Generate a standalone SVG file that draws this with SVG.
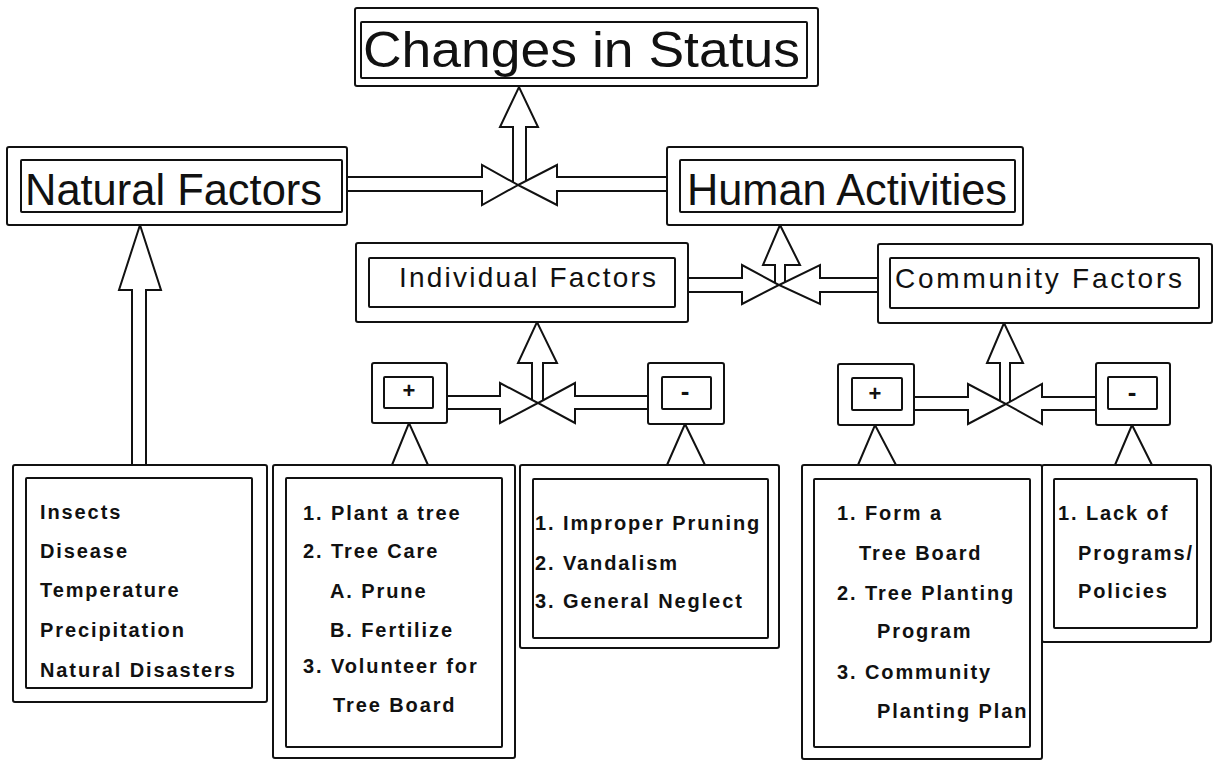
<svg xmlns="http://www.w3.org/2000/svg" width="1218" height="762" viewBox="0 0 1218 762">
<style>
.box{fill:#fff;stroke:#111;stroke-width:2;}
.ln{fill:#fff;stroke:#111;stroke-width:2;stroke-linejoin:miter;}
.tri{fill:none;stroke:#111;stroke-width:2;}
.big{font-family:"Liberation Sans",Arial,sans-serif;fill:#111;}
.mid{font-family:"Liberation Sans",Arial,sans-serif;font-size:28px;fill:#111;}
.sm{font-family:"Liberation Sans",Arial,sans-serif;font-size:20px;font-weight:bold;letter-spacing:1.9px;fill:#111;}
.sign{font-family:"Liberation Sans",Arial,sans-serif;font-weight:bold;fill:#111;text-anchor:middle;}
</style>
<rect width="1218" height="762" fill="#fff"/>

<g id="connectors">
  <!-- junction 1 -->
  <path class="ln" d="M513 185 V127 H500 L519 87 L538 127 H526 V185"/>
  <path class="ln" d="M347 177 H482 V165 L518 185 L482 205 V191 H347"/>
  <path class="ln" d="M667 177 H557 V165 L518 185 L557 205 V191 H667"/>
  <!-- junction 2 -->
  <path class="ln" d="M775 285 V265 H763 L780 225 L800 265 H785 V285"/>
  <path class="ln" d="M688 278 H742 V265 L779 285 L742 304 V292 H688"/>
  <path class="ln" d="M878 278 H820 V265 L779 285 L820 304 V292 H878"/>
  <!-- junction 3 -->
  <path class="ln" d="M532 403 V363 H518 L537 322 L557 363 H543 V403"/>
  <path class="ln" d="M447 396 H500 V383 L538 403 L500 423 V409 H447"/>
  <path class="ln" d="M648 396 H575 V383 L538 403 L575 423 V409 H648"/>
  <!-- junction 4 -->
  <path class="ln" d="M1000 404 V363 H987 L1004 323 L1023 363 H1010 V404"/>
  <path class="ln" d="M914 397 H968 V384 L1006 404 L968 424 V410 H914"/>
  <path class="ln" d="M1096 397 H1042 V384 L1006 404 L1042 424 V410 H1096"/>
  <!-- natural factors arrow -->
  <path class="ln" d="M132 465 V290 H119 L140 225 L161 290 H146 V465"/>
  <!-- triangles below sign boxes -->
  <polyline class="tri" points="392,465 409,423 428,465"/>
  <polyline class="tri" points="667,465 685,424 705,465"/>
  <polyline class="tri" points="858,465 875,425 896,465"/>
  <polyline class="tri" points="1115,465 1132,425 1152,465"/>
</g>

<g id="changes-in-status">
  <rect class="box" x="355" y="8" width="463" height="78" rx="2"/>
  <rect class="box" x="361" y="22" width="446" height="56" rx="1"/>
  <text class="big" x="363" y="67" font-size="50" textLength="437" lengthAdjust="spacingAndGlyphs">Changes in Status</text>
</g>

<g id="natural-factors">
  <rect class="box" x="7" y="147" width="340" height="78" rx="2"/>
  <rect class="box" x="21" y="160" width="321" height="52" rx="1"/>
  <text class="big" x="25" y="205" font-size="44" textLength="297" lengthAdjust="spacingAndGlyphs">Natural Factors</text>
</g>

<g id="human-activities">
  <rect class="box" x="667" y="147" width="356" height="78" rx="2"/>
  <rect class="box" x="680" y="160" width="335" height="52" rx="1"/>
  <text class="big" x="687" y="205" font-size="44" textLength="320" lengthAdjust="spacingAndGlyphs">Human Activities</text>
</g>

<g id="individual-factors">
  <rect class="box" x="356" y="243" width="332" height="79" rx="2"/>
  <rect class="box" x="369" y="258" width="306" height="49" rx="1"/>
  <text class="mid" x="399" y="287" textLength="257" lengthAdjust="spacing">Individual Factors</text>
</g>

<g id="community-factors">
  <rect class="box" x="878" y="244" width="334" height="79" rx="2"/>
  <rect class="box" x="890" y="258" width="309" height="50" rx="1"/>
  <text class="mid" x="895" y="288" textLength="287" lengthAdjust="spacing">Community Factors</text>
</g>

<g id="individual-plus">
  <rect class="box" x="372" y="363" width="75" height="60" rx="2"/>
  <rect class="box" x="384" y="377" width="49" height="31" rx="1"/>
  <text class="sign" x="409" y="398" font-size="22">+</text>
</g>

<g id="individual-minus">
  <rect class="box" x="648" y="363" width="76" height="61" rx="2"/>
  <rect class="box" x="662" y="377" width="49" height="32" rx="1"/>
  <text class="sign" x="685" y="400" font-size="26">-</text>
</g>

<g id="community-plus">
  <rect class="box" x="838" y="364" width="76" height="61" rx="2"/>
  <rect class="box" x="852" y="378" width="50" height="32" rx="1"/>
  <text class="sign" x="875" y="401" font-size="22">+</text>
</g>

<g id="community-minus">
  <rect class="box" x="1096" y="363" width="74" height="62" rx="2"/>
  <rect class="box" x="1108" y="377" width="49" height="32" rx="1"/>
  <text class="sign" x="1132" y="401" font-size="26">-</text>
</g>

<g id="natural-list">
  <rect class="box" x="13" y="465" width="254" height="237" rx="2"/>
  <rect class="box" x="26" y="478" width="226" height="210" rx="1"/>
  <text class="sm" x="40" y="519">Insects</text>
  <text class="sm" x="40" y="558">Disease</text>
  <text class="sm" x="40" y="597">Temperature</text>
  <text class="sm" x="40" y="637">Precipitation</text>
  <text class="sm" x="40" y="677">Natural Disasters</text>
</g>

<g id="individual-positive-list">
  <rect class="box" x="273" y="465" width="242" height="293" rx="2"/>
  <rect class="box" x="286" y="478" width="216" height="269" rx="1"/>
  <text class="sm" x="303" y="520">1. Plant a tree</text>
  <text class="sm" x="303" y="558">2. Tree Care</text>
  <text class="sm" x="330" y="598">A. Prune</text>
  <text class="sm" x="330" y="637">B. Fertilize</text>
  <text class="sm" x="303" y="673">3. Volunteer for</text>
  <text class="sm" x="333" y="712">Tree Board</text>
</g>

<g id="individual-negative-list">
  <rect class="box" x="520" y="465" width="259" height="183" rx="2"/>
  <rect class="box" x="533" y="479" width="235" height="159" rx="1"/>
  <text class="sm" x="535" y="530">1. Improper Pruning</text>
  <text class="sm" x="535" y="570">2. Vandalism</text>
  <text class="sm" x="535" y="608">3. General Neglect</text>
</g>

<g id="community-positive-list">
  <rect class="box" x="802" y="465" width="240" height="294" rx="2"/>
  <rect class="box" x="814" y="479" width="216" height="268" rx="1"/>
  <text class="sm" x="837" y="520">1. Form a</text>
  <text class="sm" x="859" y="560">Tree Board</text>
  <text class="sm" x="837" y="600">2. Tree Planting</text>
  <text class="sm" x="877" y="638">Program</text>
  <text class="sm" x="837" y="679">3. Community</text>
  <text class="sm" x="877" y="718">Planting Plan</text>
</g>

<g id="community-negative-list">
  <rect class="box" x="1042" y="465" width="169" height="177" rx="2"/>
  <rect class="box" x="1054" y="479" width="143" height="149" rx="1"/>
  <text class="sm" x="1058" y="520">1. Lack of</text>
  <text class="sm" x="1078" y="560">Programs/</text>
  <text class="sm" x="1078" y="598">Policies</text>
</g>
</svg>
